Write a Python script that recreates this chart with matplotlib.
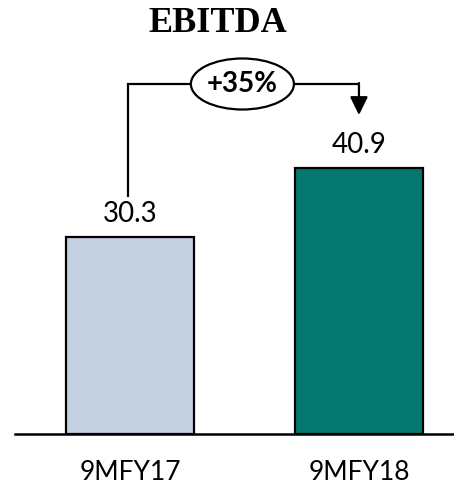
import matplotlib
matplotlib.use("Agg")
import matplotlib.pyplot as plt
from matplotlib.patches import Ellipse

categories = ["9MFY17", "9MFY18"]
values = [30.3, 40.9]
colors = ["#c4cfe0", "#037870"]
growth_label = "+35%"
title = "EBITDA"

W, H = 454, 488
fig = plt.figure(figsize=(W / 100, H / 100), dpi=100)

# axes placed in pixel terms: baseline at y=434, from x=15 to right edge
ax = fig.add_axes([15 / W, 1 - 434 / H, 1 - 15 / W, 434 / H])
px_per_unit = 6.5
ax.set_ylim(0, 434 / px_per_unit)
ax.set_xlim(-0.502, 1.415)

x = [0, 1]
ax.bar(x, values, width=0.559, color=colors, edgecolor="black", linewidth=1.6, zorder=2)

font = "Lato"
for xi, v in zip(x, values):
    ax.text(xi, v + 3.5, f"{v:.1f}", ha="center", va="center", fontsize=20, family=font)

for xi, c in zip(x, categories):
    ax.text(xi, -6.0, c, ha="center", va="center", fontsize=19, family=font)

# bracket with growth arrow
y_top = (434 - 84) / px_per_unit
ax.plot([x[0] - 0.01, x[0] - 0.01, x[1]], [values[0] + 6.2, y_top, y_top],
        color="black", lw=1.6, zorder=3, solid_capstyle="butt", solid_joinstyle="miter")
ax.annotate("", xy=(x[1], (434 - 115) / px_per_unit), xytext=(x[1], y_top + 0.15),
            arrowprops=dict(arrowstyle="-|>,head_length=0.55,head_width=0.27", mutation_scale=20,
                            color="black", lw=1.6, shrinkA=0, shrinkB=0), zorder=3)
ell = Ellipse((0.491, y_top), 0.45, 7.85, facecolor="white", edgecolor="black", lw=1.6, zorder=4)
ax.add_patch(ell)
ax.text(0.491, y_top, growth_label, ha="center", va="center", fontsize=20, fontweight="bold",
        family=font, zorder=5)

for s in ["top", "right", "left"]:
    ax.spines[s].set_visible(False)
ax.spines["bottom"].set_linewidth(1.8)
ax.set_xticks([])
ax.set_yticks([])
ax.patch.set_alpha(0)

fig.text(218 / W, 1 - 23 / H, title, ha="center", va="center", fontsize=26,
         fontweight="bold", family="Liberation Serif")

fig.savefig("out.png", dpi=100)
